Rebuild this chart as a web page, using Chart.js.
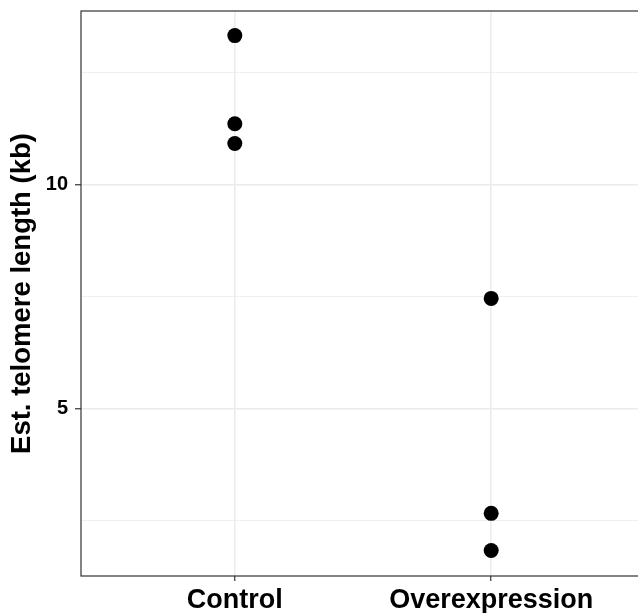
<!DOCTYPE html>
<html>
<head>
<meta charset="utf-8">
<script src="https://cdn.jsdelivr.net/npm/chart.js@4/dist/chart.umd.min.js"></script>
<style>
  html, body { margin: 0; padding: 0; background: #fff; overflow: hidden; }
</style>
</head>
<body>
<canvas id="chart" width="660" height="613"></canvas>
<script>
// categories and values
var groups = ['Control', 'Overexpression'];
var controlVals = [13.33, 11.36, 10.92];
var overexpVals = [7.46, 2.66, 1.83];
var yTicks = [2.5, 5, 7.5, 10, 12.5];
var yLabelled = [5, 10];

var FONT = "'Liberation Sans', Arial, Helvetica, sans-serif";

// build points: x = category index
var pts = [];
for (var i = 0; i < controlVals.length; i++) pts.push({ x: 0, y: controlVals[i] });
for (var j = 0; j < overexpVals.length; j++) pts.push({ x: 1, y: overexpVals[j] });

// panel border, drawn on top like ggplot
var panelBorder = {
    id: 'panelBorder',
    afterDatasetsDraw: function (chart) {
        var a = chart.chartArea;
        var c = chart.ctx;
        c.save();
        c.strokeStyle = '#333333';
        c.lineWidth = 1.2;
        c.strokeRect(a.left, a.top, a.right - a.left, a.bottom - a.top);
        c.restore();
    }
};

var ctx = document.getElementById('chart').getContext('2d');
var chart = new Chart(ctx, {
    type: 'scatter',
    data: {
        datasets: [{
            data: pts,
            backgroundColor: '#000000',
            borderColor: '#000000',
            pointRadius: 7.5,
            pointHoverRadius: 7.5,
            borderWidth: 0
        }]
    },
    plugins: [panelBorder],
    options: {
        responsive: false,
        animation: false,
        events: [],
        // panel runs past the right edge of the window, as in the reference
        layout: { autoPadding: false, padding: { top: 11, right: 15, left: 0, bottom: 0 } },
        plugins: { legend: { display: false }, tooltip: { enabled: false } },
        scales: {
            x: {
                type: 'linear',
                min: -0.6,
                max: 1.6,
                afterBuildTicks: function (s) {
                    s.ticks = groups.map(function (g, k) { return { value: k }; });
                },
                afterFit: function (s) {
                    s.height = 37;
                    s.paddingLeft = 0;
                    s.paddingRight = 0;
                },
                border: { display: false },
                grid: {
                    color: '#ebebeb',
                    lineWidth: 1.5,
                    drawTicks: true,
                    tickLength: 5,
                    tickColor: '#333333',
                    tickWidth: 1.2
                },
                ticks: {
                    padding: 3,
                    color: '#000000',
                    font: { family: FONT, size: 27, weight: 'bold' },
                    maxRotation: 0,
                    callback: function (v) { return groups[v]; }
                }
            },
            y: {
                type: 'linear',
                min: 1.26,
                max: 13.88,
                afterBuildTicks: function (s) {
                    s.ticks = yTicks.map(function (v) { return { value: v }; });
                },
                afterFit: function (s) {
                    s.width = 81;
                    s.paddingTop = 0;
                    s.paddingBottom = 0;
                },
                border: { display: false },
                grid: {
                    color: '#ebebeb',
                    lineWidth: function (c) {
                        return yLabelled.indexOf(c.tick.value) >= 0 ? 1.5 : 0.8;
                    },
                    drawTicks: true,
                    tickLength: 6,
                    tickColor: function (c) {
                        return yLabelled.indexOf(c.tick.value) >= 0 ? '#333333' : 'rgba(0,0,0,0)';
                    },
                    tickWidth: 1.2
                },
                ticks: {
                    padding: 7,
                    color: '#000000',
                    font: { family: FONT, size: 20, weight: 'bold' },
                    callback: function (v) {
                        return yLabelled.indexOf(v) >= 0 ? String(v) : '';
                    }
                },
                title: {
                    display: true,
                    text: 'Est. telomere length (kb)',
                    color: '#000000',
                    font: { family: FONT, size: 27.5, weight: 'bold' },
                    padding: { top: 6, bottom: 0 }
                }
            }
        }
    }
});
</script>
</body>
</html>
